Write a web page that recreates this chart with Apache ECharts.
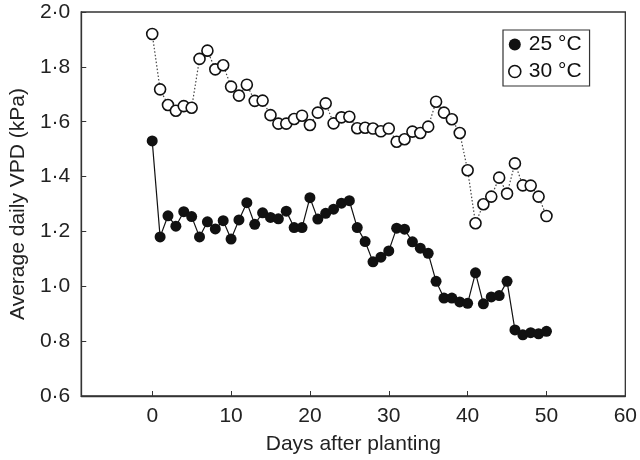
<!DOCTYPE html>
<html>
<head>
<meta charset="utf-8">
<script src="https://cdn.jsdelivr.net/npm/echarts@6/dist/echarts.min.js"></script>
<style>html,body{margin:0;padding:0;background:#fff;}#c{width:640px;height:460px;}</style>
</head>
<body>
<div id="c"></div>
<script>
const days = [0,1,2,3,4,5,6,7,8,9,10,11,12,13,14,15,16,17,18,19,20,21,22,23,24,25,26,27,28,29,30,31,32,33,34,35,36,37,38,39,40,41,42,43,44,45,46,47,48,49,50];
const vpd25 = [1.53,1.18,1.257,1.219,1.272,1.254,1.18,1.235,1.209,1.239,1.172,1.242,1.305,1.226,1.268,1.251,1.246,1.274,1.214,1.214,1.323,1.245,1.266,1.281,1.303,1.312,1.214,1.163,1.089,1.106,1.129,1.212,1.208,1.162,1.139,1.12,1.018,0.957,0.957,0.943,0.938,1.049,0.936,0.961,0.966,1.018,0.841,0.823,0.831,0.827,0.836];
const vpd30 = [1.92,1.718,1.661,1.64,1.657,1.651,1.829,1.859,1.791,1.806,1.728,1.695,1.735,1.676,1.677,1.624,1.593,1.593,1.61,1.622,1.588,1.633,1.667,1.594,1.616,1.618,1.576,1.578,1.575,1.565,1.575,1.527,1.536,1.564,1.559,1.582,1.673,1.633,1.609,1.559,1.423,1.23,1.299,1.327,1.396,1.338,1.448,1.368,1.367,1.327,1.256];
const xTicks = [0,10,20,30,40,50,60];
const yTicks = [0.6,0.8,1.0,1.2,1.4,1.6,1.8,2.0];
const seriesNames = ['25 °C','30 °C'];

const FONT = 'Liberation Sans, Arial, sans-serif';
const FS = 21;
const chart = echarts.init(document.getElementById('c'));
chart.setOption({
  animation: false,
  backgroundColor: '#fff',
  grid: {left: 77, right: 13, top: 12, bottom: 64, show: true, borderColor: '#333', borderWidth: 1.3, backgroundColor: 'transparent'},
  legend: {
    left: 503, top: 30, orient: 'vertical', itemGap: 6, padding: [4, 8, 4, 5],
    borderColor: '#333', borderWidth: 1.2, itemWidth: 18, itemHeight: 12,
    textStyle: {fontFamily: FONT, fontSize: FS, color: '#111'},
    data: [
      {name: seriesNames[0], icon: 'circle', itemStyle: {color: '#111', borderColor: '#111', borderWidth: 0}},
      {name: seriesNames[1], icon: 'circle', itemStyle: {color: '#fff', borderColor: '#111', borderWidth: 1.6}}
    ]
  },
  xAxis: {
    type: 'value', min: -9, max: 60,
    name: 'Days after planting', nameLocation: 'middle', nameGap: 38,
    nameTextStyle: {fontFamily: FONT, fontSize: FS, color: '#222'},
    axisLine: {show: true, onZero: false, lineStyle: {color: '#333', width: 1.3}},
    axisTick: {show: true, inside: true, length: 5, customValues: xTicks, lineStyle: {color: '#333'}},
    axisLabel: {customValues: xTicks, fontFamily: FONT, fontSize: FS, color: '#222', margin: 10},
    splitLine: {show: false}
  },
  yAxis: {
    type: 'value', min: yTicks[0], max: yTicks[yTicks.length - 1], interval: 0.2,
    name: 'Average daily VPD (kPa)', nameLocation: 'middle', nameGap: 51,
    nameTextStyle: {fontFamily: FONT, fontSize: FS, color: '#222'},
    axisLine: {show: true, onZero: false, lineStyle: {color: '#333', width: 1.3}},
    axisTick: {show: true, inside: true, length: 5, lineStyle: {color: '#333'}},
    axisLabel: {fontFamily: FONT, fontSize: FS, color: '#222', margin: 11,
      formatter: v => v.toFixed(1).replace('.', '\u00b7')},
    splitLine: {show: false}
  },
  series: [
    {
      name: seriesNames[1], type: 'line', data: days.map((d, i) => [d, vpd30[i]]),
      symbol: 'circle', symbolSize: 11,
      lineStyle: {color: '#444', width: 1.2, type: [1.5, 2]},
      itemStyle: {color: '#fff', borderColor: '#111', borderWidth: 1.6}, z: 3
    },
    {
      name: seriesNames[0], type: 'line', data: days.map((d, i) => [d, vpd25[i]]),
      symbol: 'circle', symbolSize: 11,
      lineStyle: {color: '#111', width: 1.2},
      itemStyle: {color: '#111', borderColor: '#111', borderWidth: 0}, z: 4
    }
  ]
});
</script>
</body>
</html>
